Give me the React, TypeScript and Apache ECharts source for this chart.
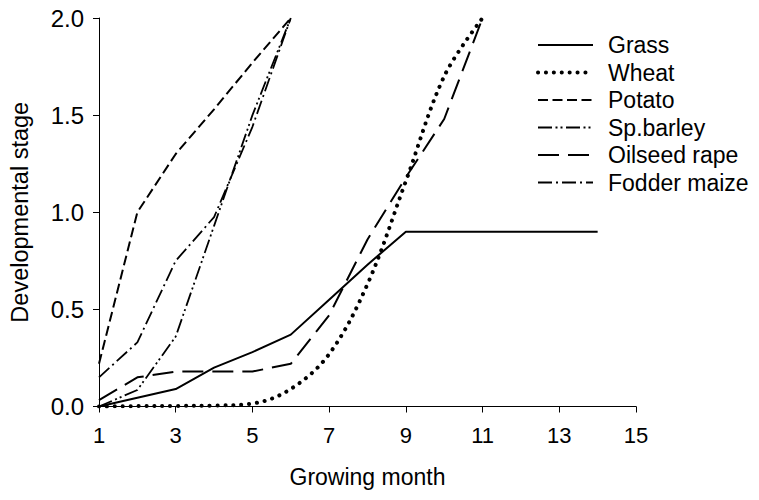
import React, { useEffect, useRef } from "react";
import * as echarts from "echarts";

const months = [1, 2, 3, 4, 5, 6, 7, 8, 9, 10, 11, 12, 13, 14];
const grass = [0, 0.045, 0.09, 0.2, 0.28, 0.37, 0.55, 0.73, 0.9, 0.9, 0.9, 0.9, 0.9, 0.9];
const wheat = [0, 0.002, 0.003, 0.005, 0.015, 0.09, 0.27, 0.63, 1.16, 1.7, 2.0];
const potato = [0.22, 1.0, 1.3, 1.53, 1.77, 2.0];
const spBarley = [0, 0.085, 0.36, 0.93, 1.5, 2.0];
const oilseedRape = [0.033, 0.15, 0.18, 0.18, 0.18, 0.22, 0.47, 0.86, 1.18, 1.48, 2.0];
const fodderMaize = [0.15, 0.33, 0.75, 0.975, 1.44, 2.0];

const seriesNames = ["Grass", "Wheat", "Potato", "Sp.barley", "Oilseed rape", "Fodder maize"];

const xTicks = { min: 1, max: 15, interval: 2 };
const yTicks = { min: 0, max: 2, interval: 0.5 };

const FONT = "'Liberation Sans', Arial, sans-serif";

const styles: Record<string, any> = {
  Grass: { width: 2, type: "solid" },
  Wheat: { width: 4, type: [0.1, 7.8], cap: "round" },
  Potato: { width: 2, type: [10, 4.5] },
  "Sp.barley": { width: 1.8, type: [14, 3.5, 2, 3, 2, 3.5] },
  "Oilseed rape": { width: 2, type: [21, 9] },
  "Fodder maize": { width: 1.8, type: [14, 4, 2, 4] },
};

const pairs = (vals: number[]) => vals.map((v, i) => [months[i], v]);

export default function App() {
  const ref = useRef<HTMLDivElement>(null);
  useEffect(() => {
    if (!ref.current) return;
    const chart = echarts.init(ref.current, null, { renderer: "svg" });
    const dataMap: Record<string, number[]> = {
      Grass: grass,
      Wheat: wheat,
      Potato: potato,
      "Sp.barley": spBarley,
      "Oilseed rape": oilseedRape,
      "Fodder maize": fodderMaize,
    };
    const series = seriesNames.map((name) => ({
      name,
      type: "line",
      data: pairs(dataMap[name]),
      symbol: "none",
      showSymbol: false,
      smooth: name === "Wheat" ? 0.35 : false,
      lineStyle: { color: "#000", ...styles[name] },
      itemStyle: { color: "#000" },
    }));
    const legendLeft = 538;
    const legendTop = 45;
    const legendPitch = 27.5;
    const legendGraphics: any[] = [];
    seriesNames.forEach((name, i) => {
      const y = legendTop + i * legendPitch;
      const s = styles[name];
      legendGraphics.push({
        type: "line",
        shape: { x1: legendLeft, y1: y, x2: legendLeft + 55, y2: y },
        style: {
          stroke: "#000",
          lineWidth: s.width,
          lineDash: Array.isArray(s.type) ? s.type : null,
          lineCap: s.cap || "butt",
        },
      });
      legendGraphics.push({
        type: "text",
        x: legendLeft + 70,
        y,
        style: {
          text: name,
          fontFamily: FONT,
          fontSize: 23,
          fill: "#000",
          verticalAlign: "middle",
          align: "left",
        },
      });
    });
    chart.setOption({
      animation: false,
      backgroundColor: "#fff",
      grid: { left: 95, right: 123, top: 18, bottom: 93.5, containLabel: false },
      graphic: legendGraphics,
      xAxis: {
        type: "value",
        min: xTicks.min,
        max: xTicks.max,
        interval: xTicks.interval,
        name: "Growing month",
        nameLocation: "middle",
        nameGap: 59,
        nameTextStyle: { fontFamily: FONT, fontSize: 23, color: "#000" },
        axisLine: { show: true, lineStyle: { color: "#000", width: 1 } },
        axisTick: { show: true, length: 6, lineStyle: { color: "#000" } },
        axisLabel: { fontFamily: FONT, fontSize: 22, color: "#000", margin: 18 },
        splitLine: { show: false },
      },
      yAxis: {
        type: "value",
        min: yTicks.min,
        max: yTicks.max,
        interval: yTicks.interval,
        name: "Developmental stage",
        nameLocation: "middle",
        nameGap: 67,
        nameTextStyle: { fontFamily: FONT, fontSize: 23.5, color: "#000" },
        axisLine: { show: true, lineStyle: { color: "#000", width: 1 } },
        axisTick: { show: true, length: 6, lineStyle: { color: "#000" } },
        axisLabel: {
          fontFamily: FONT,
          fontSize: 24,
          color: "#000",
          margin: 15,
          formatter: (v: number) => v.toFixed(1),
        },
        splitLine: { show: false },
      },
      series,
    });
    return () => chart.dispose();
  }, []);
  return <div ref={ref} style={{ width: 759, height: 500, position: "absolute", left: 0, top: 0 }} />;
}
